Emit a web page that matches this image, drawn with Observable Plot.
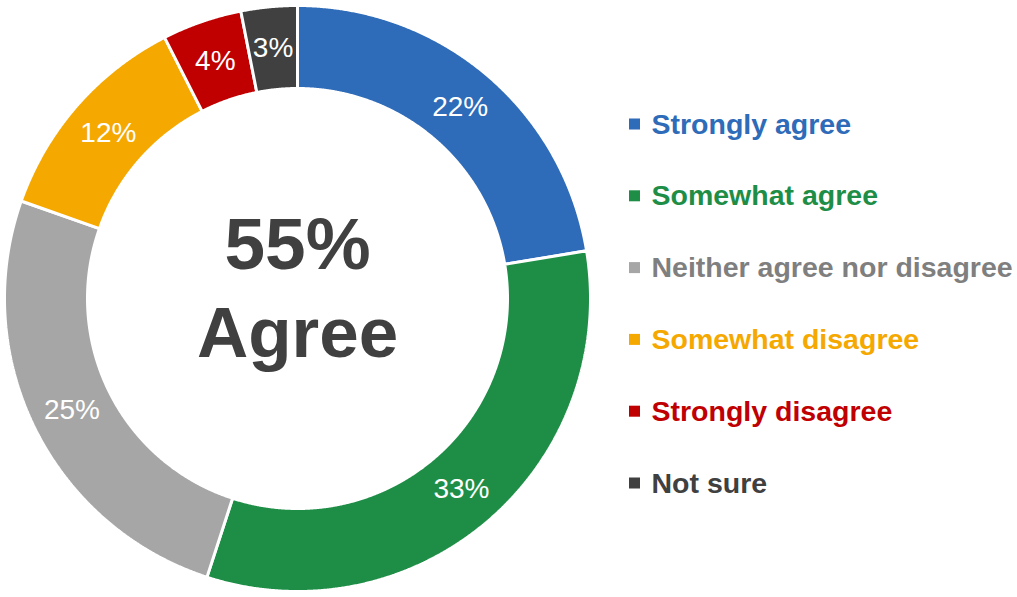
<!DOCTYPE html>
<html><head><meta charset="utf-8">
<script src="https://cdn.jsdelivr.net/npm/d3@7"></script>
<script src="https://cdn.jsdelivr.net/npm/@observablehq/plot@0.6"></script>
<style>body{margin:0;background:#fff;} #chart svg{display:block;}</style>
</head><body><div id="chart"></div>
<script>
// ---- data ----
const categories = ["Strongly agree", "Somewhat agree", "Neither agree nor disagree", "Somewhat disagree", "Strongly disagree", "Not sure"];
const values = [22.4, 32.6, 25.4, 12.1, 4.4, 3.1];
const colors = ["#2E6BB8", "#1E8E47", "#A6A6A6", "#F5A800", "#C00000", "#404040"];
const legendTextColors = ["#2E6BB8", "#1E8E47", "#7F7F7F", "#F5A800", "#C00000", "#404040"];
const centerLabel = "Agree";

// ---- layout ----
const W = 1017, H = 597;
const cx = 297, cy = 298, R = 293, r0 = 210;
const font = "'Liberation Sans', Arial, sans-serif";

const arcs = d3.pie().sort(null).value(d => d)(values);
const pt = (a, rad) => ({x: cx + rad * Math.sin(a), y: cy - rad * Math.cos(a)});

const polys = arcs.map((p, i) => {
  const n = Math.max(8, Math.ceil((p.endAngle - p.startAngle) / 0.004));
  const pts = [];
  for (let k = 0; k <= n; k++) pts.push(pt(p.startAngle + (p.endAngle - p.startAngle) * k / n, R));
  for (let k = n; k >= 0; k--) pts.push(pt(p.startAngle + (p.endAngle - p.startAngle) * k / n, r0));
  pts.push(pts[0]);
  return pts;
});

const sliceLabels = arcs.map((p, i) => {
  const m = (p.startAngle + p.endAngle) / 2;
  return {...pt(m, (R + r0) / 2), text: Math.round(values[i]) + "%"};
});

const agreeTotal = Math.round(values[0] + values[1]);

const rowY = i => 124 + i * 71.8;
const legend = categories.map((c, i) => ({c, i}));

const marks = [];
polys.forEach((poly, i) => {
  marks.push(Plot.line(poly, {x: "x", y: "y", fill: colors[i], stroke: "white", strokeWidth: 3, strokeLinejoin: "miter", curve: "linear"}));
});
marks.push(Plot.text(sliceLabels, {x: "x", y: "y", text: "text", fill: "white", fontSize: 28, fontFamily: font, textAnchor: "middle", lineAnchor: "middle"}));
marks.push(Plot.text([agreeTotal + "%"], {x: () => cx, y: () => 268, text: d => d, fill: "#404040", fontSize: 73, fontWeight: "bold", fontFamily: font, textAnchor: "middle", lineAnchor: "bottom"}));
marks.push(Plot.text([centerLabel], {x: () => cx, y: () => 356, text: d => d, fill: "#404040", fontSize: 71, fontWeight: "bold", fontFamily: font, textAnchor: "middle", lineAnchor: "bottom"}));
legend.forEach(d => {
  marks.push(Plot.rect([d], {x1: () => 629, x2: () => 640, y1: e => rowY(e.i) - 5.5, y2: e => rowY(e.i) + 5.5, fill: colors[d.i]}));
  marks.push(Plot.text([d], {x: () => 651, y: e => rowY(e.i), text: "c", fill: legendTextColors[d.i], fontSize: 28.5, fontWeight: "bold", fontFamily: font, textAnchor: "start", lineAnchor: "middle"}));
});

const chart = Plot.plot({
  width: W, height: H, margin: 0,
  style: {fontFamily: font, background: "white"},
  x: {domain: [0, W], range: [0, W], axis: null},
  y: {domain: [0, H], range: [0, H], axis: null},
  marks
});
document.getElementById("chart").append(chart);
</script>
</body></html>
